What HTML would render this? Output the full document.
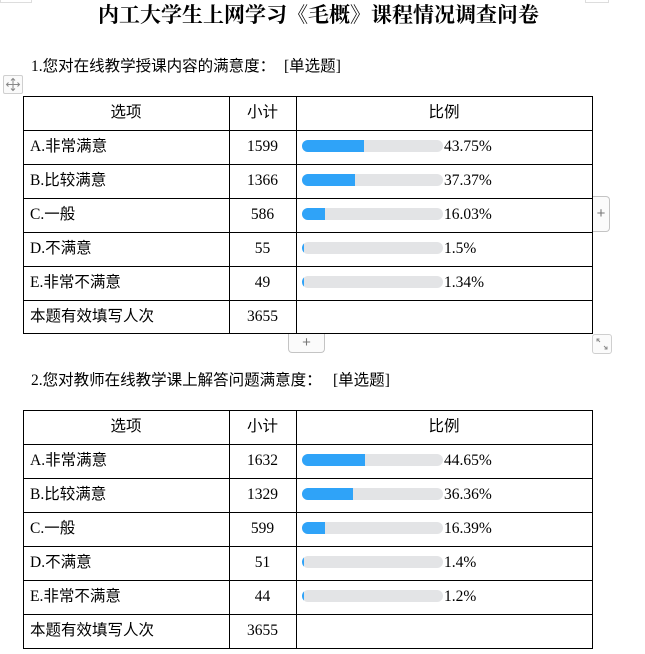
<!DOCTYPE html>
<html><head><meta charset="utf-8">
<style>
html,body{margin:0;padding:0;background:#fff;}
body{width:645px;height:654px;position:relative;overflow:hidden;font-family:"Liberation Serif","Noto Sans CJK SC",sans-serif;color:#000;}
.a{position:absolute;}
.h{position:absolute;height:1px;background:#000;left:23px;width:570px;}
.v{position:absolute;width:1px;background:#000;}
.t{position:absolute;height:34px;line-height:34px;font-size:15.5px;white-space:nowrap;margin-top:-2px;}
.t.n{margin-top:0;}
.c1{left:30px;}
.c2{left:229px;width:67px;text-align:center;}
.hd1{left:23px;width:206px;text-align:center;}
.hd3{left:296px;width:296px;text-align:center;}
.bar{position:absolute;left:302px;width:141px;height:12px;border-radius:6px;background:#e3e4e6;overflow:hidden;}
.bar i{display:block;height:12px;background:#2fa3f8;}
.pct{left:444px;}
.cjk{font-family:"Noto Sans CJK SC",sans-serif;}
</style></head><body>

<div class="a" style="left:0;top:0;width:30px;height:2px;border:1px solid #ddd;border-top:none;"></div>
<div class="a" style="left:585px;top:0;width:22px;height:2px;border:1px solid #ddd;border-top:none;"></div>

<div class="a" style="left:0;top:3px;width:645px;text-align:center;font-family:'Liberation Serif','Noto Serif CJK SC',serif;font-weight:bold;font-size:21px;line-height:24px;padding-right:8px;box-sizing:border-box;">内工大学生上网学习《毛概》课程情况调查问卷</div>

<div class="a" style="left:31px;top:55px;font-size:15.5px;line-height:20px;white-space:nowrap;">1.<span class="cjk">您对在线教学授课内容的满意度：</span></div>
<div class="a" style="left:284px;top:55px;font-size:15.5px;line-height:20px;white-space:nowrap;">[<span class="cjk">单选题</span>]</div>

<!-- move icon -->
<div class="a" style="left:3px;top:75px;width:18px;height:17px;border:1px solid #cfcfcf;border-radius:2px;background:#fafafa;">
<svg width="18" height="17" viewBox="0 0 18 17" style="position:absolute;left:0;top:0">
<g stroke="#888" stroke-width="1" fill="none">
<line x1="9" y1="2.5" x2="9" y2="14.5"/><line x1="2.5" y1="8.5" x2="15.5" y2="8.5"/>
<polyline points="7,4.5 9,2.5 11,4.5"/><polyline points="7,12.5 9,14.5 11,12.5"/>
<polyline points="4.5,6.5 2.5,8.5 4.5,10.5"/><polyline points="13.5,6.5 15.5,8.5 13.5,10.5"/>
</g></svg></div>

<!-- TABLE 1 -->
<div class="h" style="top:96px"></div>
<div class="h" style="top:130px"></div>
<div class="h" style="top:164px"></div>
<div class="h" style="top:198px"></div>
<div class="h" style="top:232px"></div>
<div class="h" style="top:266px"></div>
<div class="h" style="top:300px"></div>
<div class="h" style="top:333px"></div>
<div class="v" style="left:23px;top:96px;height:238px"></div>
<div class="v" style="left:229px;top:96px;height:238px"></div>
<div class="v" style="left:296px;top:96px;height:238px"></div>
<div class="v" style="left:592px;top:96px;height:238px"></div>

<div class="t hd1 cjk" style="top:96px">选项</div>
<div class="t c2 cjk" style="top:96px">小计</div>
<div class="t hd3 cjk" style="top:96px">比例</div>

<div class="t c1" style="top:130px">A.<span class="cjk">非常满意</span></div>
<div class="t n c2" style="top:130px">1599</div>
<div class="bar" style="top:140px"><i style="width:43.75%"></i></div>
<div class="t n pct" style="top:130px">43.75%</div>

<div class="t c1" style="top:164px">B.<span class="cjk">比较满意</span></div>
<div class="t n c2" style="top:164px">1366</div>
<div class="bar" style="top:174px"><i style="width:37.37%"></i></div>
<div class="t n pct" style="top:164px">37.37%</div>

<div class="t c1" style="top:198px">C.<span class="cjk">一般</span></div>
<div class="t n c2" style="top:198px">586</div>
<div class="bar" style="top:208px"><i style="width:16.03%"></i></div>
<div class="t n pct" style="top:198px">16.03%</div>

<div class="t c1" style="top:232px">D.<span class="cjk">不满意</span></div>
<div class="t n c2" style="top:232px">55</div>
<div class="bar" style="top:242px"><i style="width:1.5%"></i></div>
<div class="t n pct" style="top:232px">1.5%</div>

<div class="t c1" style="top:266px">E.<span class="cjk">非常不满意</span></div>
<div class="t n c2" style="top:266px">49</div>
<div class="bar" style="top:276px"><i style="width:1.34%"></i></div>
<div class="t n pct" style="top:266px">1.34%</div>

<div class="t c1 cjk" style="top:300px">本题有效填写人次</div>
<div class="t n c2" style="top:300px">3655</div>

<!-- widgets -->
<div class="a" style="left:593px;top:196px;width:16px;height:34px;border:1px solid #c4c4c4;border-left:none;border-radius:0 4px 4px 0;background:#fbfbfb;color:#777;font-family:'Liberation Sans',sans-serif;font-size:15px;line-height:34px;text-align:center;">+</div>
<div class="a" style="left:288px;top:334px;width:35px;height:18px;border:1px solid #c4c4c4;border-top:none;border-radius:0 0 4px 4px;background:#fbfbfb;color:#777;font-family:'Liberation Sans',sans-serif;font-size:15px;line-height:17px;text-align:center;">+</div>
<div class="a" style="left:592px;top:334px;width:18px;height:18px;border:1px solid #cfcfcf;border-radius:3px;background:#fbfbfb;">
<svg width="18" height="18" viewBox="0 0 18 18" style="position:absolute;left:0;top:0">
<g stroke="#888" stroke-width="1" fill="none">
<line x1="4" y1="4" x2="7" y2="7"/><polyline points="4,6.5 4,4 6.5,4"/>
<line x1="11" y1="11" x2="14" y2="14"/><polyline points="14,11.5 14,14 11.5,14"/>
</g></svg></div>

<div class="a" style="left:31px;top:369px;font-size:15.5px;line-height:20px;white-space:nowrap;">2.<span class="cjk">您对教师在线教学课上解答问题满意度：</span></div>
<div class="a" style="left:333px;top:369px;font-size:15.5px;line-height:20px;white-space:nowrap;">[<span class="cjk">单选题</span>]</div>

<!-- TABLE 2 -->
<div class="h" style="top:410px"></div>
<div class="h" style="top:444px"></div>
<div class="h" style="top:478px"></div>
<div class="h" style="top:512px"></div>
<div class="h" style="top:546px"></div>
<div class="h" style="top:580px"></div>
<div class="h" style="top:614px"></div>
<div class="h" style="top:648px"></div>
<div class="v" style="left:23px;top:410px;height:239px"></div>
<div class="v" style="left:229px;top:410px;height:239px"></div>
<div class="v" style="left:296px;top:410px;height:239px"></div>
<div class="v" style="left:592px;top:410px;height:239px"></div>

<div class="t hd1 cjk" style="top:410px">选项</div>
<div class="t c2 cjk" style="top:410px">小计</div>
<div class="t hd3 cjk" style="top:410px">比例</div>

<div class="t c1" style="top:444px">A.<span class="cjk">非常满意</span></div>
<div class="t n c2" style="top:444px">1632</div>
<div class="bar" style="top:454px"><i style="width:44.65%"></i></div>
<div class="t n pct" style="top:444px">44.65%</div>

<div class="t c1" style="top:478px">B.<span class="cjk">比较满意</span></div>
<div class="t n c2" style="top:478px">1329</div>
<div class="bar" style="top:488px"><i style="width:36.36%"></i></div>
<div class="t n pct" style="top:478px">36.36%</div>

<div class="t c1" style="top:512px">C.<span class="cjk">一般</span></div>
<div class="t n c2" style="top:512px">599</div>
<div class="bar" style="top:522px"><i style="width:16.39%"></i></div>
<div class="t n pct" style="top:512px">16.39%</div>

<div class="t c1" style="top:546px">D.<span class="cjk">不满意</span></div>
<div class="t n c2" style="top:546px">51</div>
<div class="bar" style="top:556px"><i style="width:1.4%"></i></div>
<div class="t n pct" style="top:546px">1.4%</div>

<div class="t c1" style="top:580px">E.<span class="cjk">非常不满意</span></div>
<div class="t n c2" style="top:580px">44</div>
<div class="bar" style="top:590px"><i style="width:1.2%"></i></div>
<div class="t n pct" style="top:580px">1.2%</div>

<div class="t c1 cjk" style="top:614px">本题有效填写人次</div>
<div class="t n c2" style="top:614px">3655</div>

</body></html>
